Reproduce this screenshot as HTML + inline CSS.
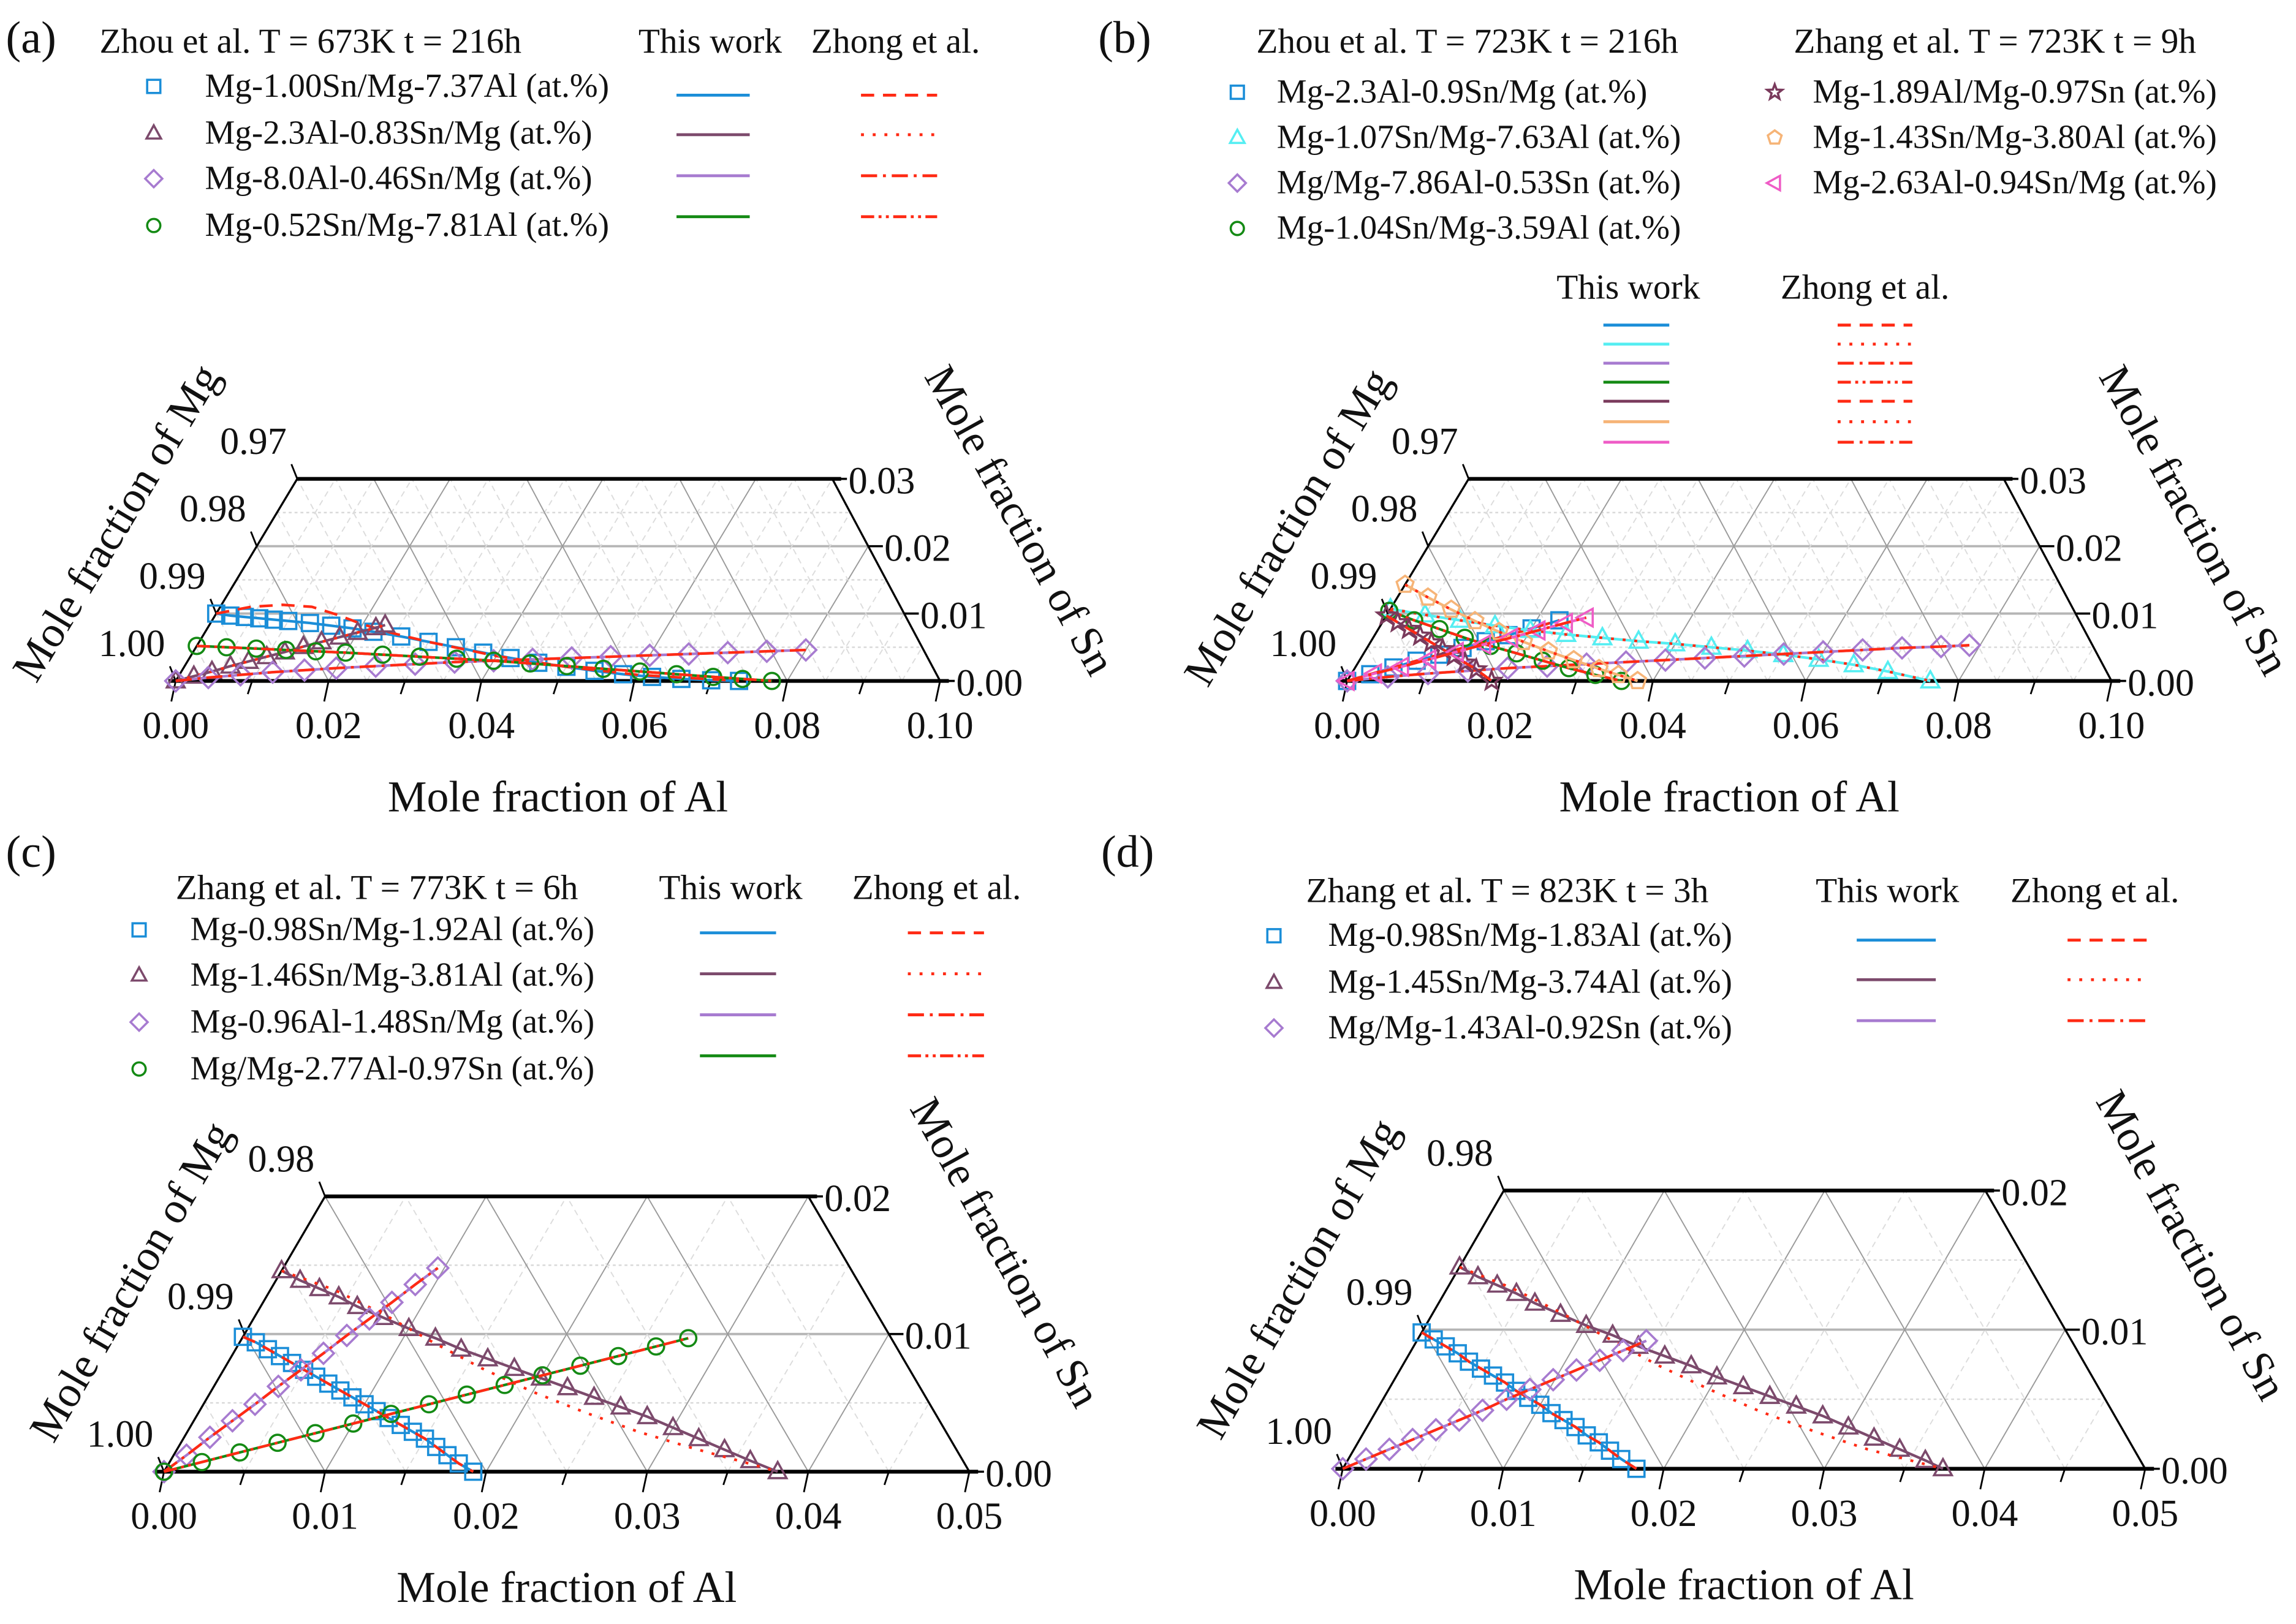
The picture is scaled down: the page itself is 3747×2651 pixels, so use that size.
<!DOCTYPE html>
<html><head><meta charset="utf-8"><style>
html,body{margin:0;padding:0;background:#fff}
svg{display:block}
text{font-family:"Liberation Serif",serif;fill:#111}
</style></head><body>
<svg id="fig" width="3747" height="2651" viewBox="0 0 1568 1109" preserveAspectRatio="none" xmlns="http://www.w3.org/2000/svg">
<rect width="1568" height="1109" fill="#fff"/>
</svg>
<script>
// ---- data (composition: mole fraction Al, Sn) ----
const alTicksAB = [0, 0.02, 0.04, 0.06, 0.08, 0.10];
const alTickLabelsAB = ["0.00","0.02","0.04","0.06","0.08","0.10"];
const snTicksAB = [0, 0.01, 0.02, 0.03];
const snTickLabelsAB = ["0.00","0.01","0.02","0.03"];
const mgTickLabelsAB = ["1.00","0.99","0.98","0.97"];
const alTicksCD = [0, 0.01, 0.02, 0.03, 0.04, 0.05];
const alTickLabelsCD = ["0.00","0.01","0.02","0.03","0.04","0.05"];
const snTicksCD = [0, 0.01, 0.02];
const snTickLabelsCD = ["0.00","0.01","0.02"];
const mgTickLabelsCD = ["1.00","0.99","0.98"];

// panel a
const aBlueAl = [0,0.002,0.004,0.006,0.008,0.010,0.013,0.016,0.019,0.022,0.026,0.030,0.034,0.038,0.042,0.046,0.050,0.054,0.058,0.062,0.066,0.070,0.0737];
const aBlueSn = [0.0100,0.0097,0.0095,0.0093,0.0091,0.0089,0.0086,0.0082,0.0078,0.0073,0.0066,0.0058,0.0050,0.0042,0.0034,0.0027,0.0021,0.0015,0.0010,0.0006,0.0003,0.0001,0];
const aBlueZAl = [0,0.004,0.008,0.012,0.016,0.020,0.025,0.030,0.040,0.050,0.060,0.0737];
const aBlueZSn = [0.0100,0.0110,0.0113,0.0110,0.0098,0.0084,0.0070,0.0058,0.0037,0.0021,0.0009,0];
const aPurAl = [0,0.002,0.004,0.006,0.008,0.010,0.012,0.014,0.016,0.018,0.020,0.022,0.023];
const aPurSn = [0,0.0007,0.0014,0.0022,0.0029,0.0036,0.0043,0.0051,0.0058,0.0065,0.0072,0.0079,0.0083];
const aLavAl = [0,0.004,0.008,0.012,0.016,0.020,0.025,0.030,0.035,0.040,0.045,0.050,0.055,0.060,0.065,0.070,0.075,0.080];
const aLavSn = [0,0.0005,0.0009,0.0013,0.0016,0.0019,0.0022,0.0025,0.0028,0.0030,0.0032,0.0034,0.0036,0.0038,0.0040,0.0042,0.0044,0.0046];
const aGrnAl = [0,0.004,0.008,0.012,0.016,0.020,0.025,0.030,0.035,0.040,0.045,0.050,0.055,0.060,0.065,0.070,0.074,0.078];
const aGrnSn = [0.0052,0.0050,0.0048,0.0046,0.0044,0.0042,0.0039,0.0036,0.0033,0.0030,0.0026,0.0022,0.0018,0.0014,0.0010,0.0006,0.0003,0];

// panel b
const bBlueAl = [0,0.0025,0.005,0.0075,0.010,0.0125,0.015,0.0175,0.020,0.023];
const bBlueSn = [0,0.0010,0.0020,0.0030,0.0039,0.0049,0.0059,0.0068,0.0078,0.0090];
const bCyanAl = [0,0.005,0.010,0.015,0.020,0.025,0.030,0.035,0.040,0.045,0.050,0.055,0.060,0.065,0.070,0.0763];
const bCyanSn = [0.0107,0.0098,0.0090,0.0082,0.0075,0.0069,0.0064,0.0059,0.0055,0.0050,0.0045,0.0039,0.0032,0.0024,0.0014,0];
const bLavAl = [0,0.005,0.010,0.015,0.020,0.025,0.030,0.035,0.040,0.045,0.050,0.055,0.060,0.065,0.070,0.075,0.0786];
const bLavSn = [0,0.0006,0.0011,0.0015,0.0019,0.0022,0.0025,0.0028,0.0031,0.0034,0.0037,0.0040,0.0043,0.0046,0.0049,0.0051,0.0053];
const bGrnAl = [0,0.004,0.008,0.012,0.016,0.020,0.024,0.028,0.032,0.0359];
const bGrnSn = [0.0104,0.0090,0.0077,0.0064,0.0052,0.0041,0.0030,0.0019,0.0009,0];
const bStarAl = [0,0.002,0.004,0.006,0.008,0.010,0.012,0.014,0.016,0.0189];
const bStarSn = [0.0097,0.0087,0.0077,0.0067,0.0057,0.0047,0.0037,0.0027,0.0017,0];
const bOrgAl = [0,0.004,0.008,0.012,0.016,0.020,0.024,0.028,0.032,0.035,0.038];
const bOrgSn = [0.0143,0.0124,0.0106,0.0089,0.0073,0.0058,0.0044,0.0031,0.0018,0.0009,0];
const bPinkAl = [0,0.003,0.006,0.009,0.012,0.015,0.018,0.021,0.024,0.0263];
const bPinkSn = [0,0.0011,0.0021,0.0032,0.0043,0.0054,0.0064,0.0075,0.0086,0.0094];

// panel c
const cBlueAl = [0,0.001,0.002,0.003,0.004,0.005,0.006,0.007,0.008,0.009,0.010,0.011,0.012,0.013,0.014,0.015,0.016,0.017,0.018,0.0192];
const cBlueSn = [0.0098,0.0094,0.0089,0.0084,0.0079,0.0074,0.0069,0.0064,0.0059,0.0054,0.0049,0.0044,0.0039,0.0034,0.0029,0.0024,0.0018,0.0012,0.0006,0];
const cPurAl = [0,0.0015,0.003,0.0045,0.006,0.008,0.010,0.012,0.014,0.016,0.018,0.020,0.022,0.024,0.026,0.028,0.030,0.032,0.034,0.036,0.0381];
const cPurSn = [0.0146,0.0139,0.0133,0.0127,0.0120,0.0112,0.0104,0.0097,0.0089,0.0082,0.0075,0.0068,0.0061,0.0054,0.0047,0.0040,0.0032,0.0024,0.0016,0.0008,0];
const cPurZAl = [0,0.004,0.008,0.012,0.016,0.020,0.024,0.028,0.032,0.036,0.0381];
const cPurZSn = [0.0146,0.0132,0.0114,0.0094,0.0075,0.0058,0.0043,0.0029,0.0017,0.0006,0];
const cLavAl = [0,0.0008,0.0016,0.0024,0.0032,0.0040,0.0048,0.0056,0.0064,0.0072,0.0080,0.0088,0.0096];
const cLavSn = [0,0.0012,0.0025,0.0037,0.0049,0.0062,0.0074,0.0086,0.0099,0.0111,0.0123,0.0136,0.0148];
const cGrnAl = [0,0.002,0.004,0.006,0.008,0.010,0.012,0.014,0.016,0.018,0.020,0.022,0.024,0.026,0.0277];
const cGrnSn = [0,0.0007,0.0014,0.0021,0.0028,0.0035,0.0042,0.0049,0.0056,0.0063,0.0070,0.0077,0.0084,0.0091,0.0097];

// panel d
const dBlueAl = [0,0.001,0.002,0.003,0.004,0.005,0.006,0.007,0.008,0.009,0.010,0.011,0.012,0.013,0.014,0.015,0.016,0.017,0.0183];
const dBlueSn = [0.0098,0.0093,0.0088,0.0083,0.0077,0.0072,0.0067,0.0062,0.0056,0.0051,0.0046,0.0040,0.0035,0.0030,0.0024,0.0019,0.0013,0.0007,0];
const dPurAl = [0,0.0015,0.003,0.0045,0.006,0.008,0.010,0.012,0.014,0.016,0.018,0.020,0.022,0.024,0.026,0.028,0.030,0.032,0.034,0.036,0.0374];
const dPurSn = [0.0145,0.0138,0.0132,0.0126,0.0119,0.0111,0.0103,0.0096,0.0088,0.0081,0.0074,0.0066,0.0059,0.0052,0.0045,0.0038,0.0030,0.0022,0.0014,0.0006,0];
const dPurZAl = [0,0.004,0.008,0.012,0.016,0.020,0.024,0.028,0.032,0.0374];
const dPurZSn = [0.0145,0.0130,0.0112,0.0093,0.0074,0.0057,0.0041,0.0027,0.0014,0];
const dLavAl = [0,0.0011,0.0022,0.0033,0.0044,0.0055,0.0066,0.0077,0.0088,0.0099,0.0110,0.0121,0.0132,0.0143];
const dLavSn = [0,0.0007,0.0014,0.0021,0.0028,0.0035,0.0042,0.0050,0.0057,0.0064,0.0071,0.0078,0.0085,0.0092];

// ---- rendering ----
const NS = "http://www.w3.org/2000/svg";
const svg = document.getElementById('fig');
const C = {blue:"#1b8ed8", pur:"#7c4a6c", lav:"#a77bd0", grn:"#148a14", cyan:"#55eef2", org:"#f6b477", pink:"#ef5cc6", star:"#7a3a5c", red:"#ff2a14"};
const DASH = {dash:"9,6", dot:"2,6", dashdot:"11,4,2,4", dashdotdot:"9,3,2,3,2,3"};
function el(tag, attrs, parent){const e=document.createElementNS(NS,tag);for(const k in attrs)e.setAttribute(k,attrs[k]);(parent||svg).appendChild(e);return e;}
function txt(s,x,y,size,parent,anchor,rot){const t=el('text',{x:x,y:y,'font-size':size,'text-anchor':anchor||'start'},parent);if(rot!==undefined)t.setAttribute('transform',`rotate(${rot} ${x} ${y})`);t.textContent=s;return t;}

function marker(shape,x,y,color,g,sz){
  const s=sz||5.5;let e;
  if(shape==='square')e=el('rect',{x:x-s,y:y-s,width:2*s,height:2*s},g);
  else if(shape==='circle')e=el('circle',{cx:x,cy:y,r:s},g);
  else if(shape==='diamond')e=el('polygon',{points:`${x},${y-s*1.3} ${x+s*1.3},${y} ${x},${y+s*1.3} ${x-s*1.3},${y}`},g);
  else if(shape==='tri')e=el('polygon',{points:`${x},${y-s*1.2} ${x+s*1.1},${y+s*0.8} ${x-s*1.1},${y+s*0.8}`},g);
  else if(shape==='ltri')e=el('polygon',{points:`${x-s*1.2},${y} ${x+s*0.8},${y-s*1.1} ${x+s*0.8},${y+s*1.1}`},g);
  else if(shape==='pent'){let p=[];for(let i=0;i<5;i++){const a=-Math.PI/2+i*2*Math.PI/5;p.push((x+s*1.1*Math.cos(a))+','+(y+s*1.1*Math.sin(a)));}e=el('polygon',{points:p.join(' ')},g);}
  else {let p=[];for(let i=0;i<10;i++){const a=-Math.PI/2+i*Math.PI/5;const r=i%2?s*0.5:s*1.2;p.push((x+r*Math.cos(a))+','+(y+r*Math.sin(a)));}e=el('polygon',{points:p.join(' ')},g);}
  e.setAttribute('fill','none');e.setAttribute('stroke',color);e.setAttribute('stroke-width','1.5');
  
  
}

function panel(P){
  const g=el('g',{});
  
  
  const map=(al,sn)=>[P.x0+al*P.sx+sn*P.kx, P.y0-sn*P.sy];
  const snMax=P.snTicks[P.snTicks.length-1], alMax=P.alTicks[P.alTicks.length-1];
  const A=map(0,0),B=map(alMax,0),Ct=map(alMax-snMax,snMax),D=map(0,snMax);
  const cid='clip'+P.id;
  const cp=el('clipPath',{id:cid},g);el('polygon',{points:`${A} ${B} ${Ct} ${D}`},cp);
  const grid=el('g',{'clip-path':`url(#${cid})`},g);
  
  
  const step=P.minor;
  for(let s=step;s<snMax-1e-9;s+=step){const p1=map(0,s),p2=map(alMax,s);const major=Math.abs(s/0.01-Math.round(s/0.01))<1e-6;
    el('line',{x1:p1[0],y1:p1[1],x2:p2[0]+200,y2:p2[1],stroke:major?'#b5b5b5':'#d8d8d8','stroke-width':major?1.6:1,'stroke-dasharray':major?'':'2,2'},grid);}
  for(let a=step;a<alMax+snMax;a+=step){const major=Math.abs(a/P.majorAl-Math.round(a/P.majorAl))<1e-6;
    const p1=map(a,0),p2=map(a,snMax);el('line',{x1:p1[0],y1:p1[1],x2:p2[0],y2:p2[1],stroke:major?'#9a9a9a':'#dcdcdc','stroke-width':0.8,'stroke-dasharray':major?'':'4,3'},grid);
    const q1=map(a,0),q2=map(a-snMax,snMax);el('line',{x1:q1[0],y1:q1[1],x2:q2[0],y2:q2[1],stroke:major?'#9a9a9a':'#dcdcdc','stroke-width':0.8,'stroke-dasharray':major?'':'4,3'},grid);}
  const fr=el('g',{},g);
  
  
  el('line',{x1:A[0]-5,y1:A[1],x2:B[0]+6,y2:B[1],stroke:'#000','stroke-width':2.6},fr);
  el('line',{x1:D[0],y1:D[1],x2:Ct[0]+6,y2:Ct[1],stroke:'#000','stroke-width':2.6},fr);
  el('line',{x1:A[0],y1:A[1],x2:D[0],y2:D[1],stroke:'#000','stroke-width':1.4},fr);
  el('line',{x1:B[0],y1:B[1],x2:Ct[0],y2:Ct[1],stroke:'#000','stroke-width':1.4},fr);
  for(let a=0;a<=alMax+1e-9;a+=P.majorAl/2){const p=map(a,0);el('line',{x1:p[0],y1:p[1],x2:p[0]-3,y2:p[1]+(Math.abs(a/P.majorAl-Math.round(a/P.majorAl))<1e-6?14:9),stroke:'#000','stroke-width':1.2},fr);}
  P.alTicks.forEach((a,i)=>{const p=map(a,0);txt(P.alLabels[i],p[0],p[1]+39,26,g,'middle');});
  P.snTicks.forEach((s,i)=>{const p=map(alMax-s,s);el('line',{x1:p[0],y1:p[1],x2:p[0]+10,y2:p[1],stroke:'#000','stroke-width':1.5},fr);txt(P.snLabels[i],p[0]+11,p[1]+10,26,g,'start');});
  P.snTicks.forEach((s,i)=>{const p=map(0,s);el('line',{x1:p[0],y1:p[1],x2:p[0]-4,y2:p[1]-10,stroke:'#000','stroke-width':1.2},fr);txt(P.mgLabels[i],p[0]-30,p[1]-17,26,g,'middle');});
  txt('Mole fraction of Al',(A[0]+B[0])/2,A[1]+89,30,g,'middle');
  txt('Mole fraction of Mg',P.mgT[0],P.mgT[1],30,g,'middle',P.mgT[2]);
  txt('Mole fraction of Sn',P.snT[0],P.snT[1],30,g,'middle',P.snT[2]);
  P.series.forEach(S=>{
    const sg=el('g',{},g);
    
    
    const pts=S.al.map((a,i)=>map(a,S.sn[i]));
    S.al.forEach((a,i)=>{const p=map(a,S.sn[i]);marker(S.shape,p[0],p[1],S.color,sg);});
    el('polyline',{points:pts.map(p=>p.join(',')).join(' '),fill:'none',stroke:S.color,'stroke-width':1.8},sg);
    const zal=S.zal||S.al,zsn=S.zsn||S.sn;
    const zp=zal.map((a,i)=>map(a,zsn[i]));
    el('polyline',{points:zp.map(p=>p.join(',')).join(' '),fill:'none',stroke:C.red,'stroke-width':1.8,'stroke-dasharray':DASH[S.dash]},sg);
  });
}

function legend(L){
  const g=el('g',{});
  
  
  txt(L.label,L.labelXY[0],L.labelXY[1],31,g,'start');
  L.headers.forEach(h=>txt(h[0],h[1],h[2],24,g,'start'));
  L.entries.forEach(e=>{
    marker(e.shape,e.mx,e.y-7,e.color,g,4.5);
    txt(e.text,e.tx,e.y,23,g,'start');
  });
  L.lines.forEach(l=>{
    el('line',{x1:l.x1,y1:l.y,x2:l.x2,y2:l.y,stroke:l.color,'stroke-width':2},g);
    el('line',{x1:l.rx1,y1:l.y,x2:l.rx2,y2:l.y,stroke:C.red,'stroke-width':2,'stroke-dasharray':DASH[l.dash]},g);
  });
}

panel({id:'a',name:'panel-a-chart',x0:120,y0:465,sx:5220,sy:4600,kx:2767,minor:0.005,majorAl:0.02,
  alTicks:alTicksAB,alLabels:alTickLabelsAB,snTicks:snTicksAB,snLabels:snTickLabelsAB,mgLabels:mgTickLabelsAB,
  mgT:[88,362,-59],snT:[688,360,61],
  series:[
   {name:'series-mg-1.00sn-mg-7.37al',al:aBlueAl,sn:aBlueSn,zal:aBlueZAl,zsn:aBlueZSn,color:C.blue,shape:'square',dash:'dash'},
   {name:'series-mg-2.3al-0.83sn-mg',al:aPurAl,sn:aPurSn,color:C.pur,shape:'tri',dash:'dot'},
   {name:'series-mg-8.0al-0.46sn-mg',al:aLavAl,sn:aLavSn,color:C.lav,shape:'diamond',dash:'dashdot'},
   {name:'series-mg-0.52sn-mg-7.81al',al:aGrnAl,sn:aGrnSn,color:C.grn,shape:'circle',dash:'dashdotdot'}]});
legend({name:'legend-a',label:'(a)',labelXY:[4,36],
  headers:[['Zhou et al.  T = 673K  t = 216h',68,36],['This work',436,36],['Zhong et al.',554,36]],
  entries:[{shape:'square',color:C.blue,mx:105,tx:140,y:66,text:'Mg-1.00Sn/Mg-7.37Al (at.%)'},
   {shape:'tri',color:C.pur,mx:105,tx:140,y:98,text:'Mg-2.3Al-0.83Sn/Mg (at.%)'},
   {shape:'diamond',color:C.lav,mx:105,tx:140,y:129,text:'Mg-8.0Al-0.46Sn/Mg (at.%)'},
   {shape:'circle',color:C.grn,mx:105,tx:140,y:161,text:'Mg-0.52Sn/Mg-7.81Al (at.%)'}],
  lines:[{y:65,x1:462,x2:512,rx1:588,rx2:640,color:C.blue,dash:'dash'},{y:92,x1:462,x2:512,rx1:588,rx2:640,color:C.pur,dash:'dot'},
   {y:120,x1:462,x2:512,rx1:588,rx2:640,color:C.lav,dash:'dashdot'},{y:148,x1:462,x2:512,rx1:588,rx2:640,color:C.grn,dash:'dashdotdot'}]});

panel({id:'b',name:'panel-b-chart',x0:920,y0:465,sx:5220,sy:4600,kx:2767,minor:0.005,majorAl:0.02,
  alTicks:alTicksAB,alLabels:alTickLabelsAB,snTicks:snTicksAB,snLabels:snTickLabelsAB,mgLabels:mgTickLabelsAB,
  mgT:[888,365,-59],snT:[1490,360,61],
  series:[
   {name:'series-mg-2.3al-0.9sn-mg',al:bBlueAl,sn:bBlueSn,color:C.blue,shape:'square',dash:'dash'},
   {name:'series-mg-1.07sn-mg-7.63al',al:bCyanAl,sn:bCyanSn,color:C.cyan,shape:'tri',dash:'dot'},
   {name:'series-mg-mg-7.86al-0.53sn',al:bLavAl,sn:bLavSn,color:C.lav,shape:'diamond',dash:'dashdot'},
   {name:'series-mg-1.04sn-mg-3.59al',al:bGrnAl,sn:bGrnSn,color:C.grn,shape:'circle',dash:'dashdotdot'},
   {name:'series-mg-1.89al-mg-0.97sn',al:bStarAl,sn:bStarSn,color:C.star,shape:'star',dash:'dash'},
   {name:'series-mg-1.43sn-mg-3.80al',al:bOrgAl,sn:bOrgSn,color:C.org,shape:'pent',dash:'dot'},
   {name:'series-mg-2.63al-0.94sn-mg',al:bPinkAl,sn:bPinkSn,color:C.pink,shape:'ltri',dash:'dashdot'}]});
legend({name:'legend-b',label:'(b)',labelXY:[750,36],
  headers:[['Zhou et al.  T = 723K  t = 216h',858,36],['Zhang et al.  T = 723K  t = 9h',1225,36],['This work',1063,204],['Zhong et al.',1216,204]],
  entries:[{shape:'square',color:C.blue,mx:845,tx:872,y:70,text:'Mg-2.3Al-0.9Sn/Mg (at.%)'},
   {shape:'tri',color:C.cyan,mx:845,tx:872,y:101,text:'Mg-1.07Sn/Mg-7.63Al (at.%)'},
   {shape:'diamond',color:C.lav,mx:845,tx:872,y:132,text:'Mg/Mg-7.86Al-0.53Sn (at.%)'},
   {shape:'circle',color:C.grn,mx:845,tx:872,y:163,text:'Mg-1.04Sn/Mg-3.59Al (at.%)'},
   {shape:'star',color:C.star,mx:1212,tx:1238,y:70,text:'Mg-1.89Al/Mg-0.97Sn (at.%)'},
   {shape:'pent',color:C.org,mx:1212,tx:1238,y:101,text:'Mg-1.43Sn/Mg-3.80Al (at.%)'},
   {shape:'ltri',color:C.pink,mx:1212,tx:1238,y:132,text:'Mg-2.63Al-0.94Sn/Mg (at.%)'}],
  lines:[{y:222,x1:1095,x2:1140,rx1:1255,rx2:1306,color:C.blue,dash:'dash'},{y:235,x1:1095,x2:1140,rx1:1255,rx2:1306,color:C.cyan,dash:'dot'},
   {y:248,x1:1095,x2:1140,rx1:1255,rx2:1306,color:C.lav,dash:'dashdot'},{y:261,x1:1095,x2:1140,rx1:1255,rx2:1306,color:C.grn,dash:'dashdotdot'},
   {y:274,x1:1095,x2:1140,rx1:1255,rx2:1306,color:C.star,dash:'dash'},{y:288,x1:1095,x2:1140,rx1:1255,rx2:1306,color:C.org,dash:'dot'},
   {y:302,x1:1095,x2:1140,rx1:1255,rx2:1306,color:C.pink,dash:'dashdot'}]});

panel({id:'c',name:'panel-c-chart',x0:112,y0:1005,sx:11000,sy:9400,kx:5500,minor:0.005,majorAl:0.01,
  alTicks:alTicksCD,alLabels:alTickLabelsCD,snTicks:snTicksCD,snLabels:snTickLabelsCD,mgLabels:mgTickLabelsCD,
  mgT:[98,880,-60],snT:[678,860,61],
  series:[
   {name:'series-mg-0.98sn-mg-1.92al',al:cBlueAl,sn:cBlueSn,color:C.blue,shape:'square',dash:'dash'},
   {name:'series-mg-1.46sn-mg-3.81al',al:cPurAl,sn:cPurSn,zal:cPurZAl,zsn:cPurZSn,color:C.pur,shape:'tri',dash:'dot'},
   {name:'series-mg-0.96al-1.48sn-mg',al:cLavAl,sn:cLavSn,color:C.lav,shape:'diamond',dash:'dashdot'},
   {name:'series-mg-mg-2.77al-0.97sn',al:cGrnAl,sn:cGrnSn,color:C.grn,shape:'circle',dash:'dashdotdot'}]});
legend({name:'legend-c',label:'(c)',labelXY:[4,592],
  headers:[['Zhang et al.  T = 773K   t = 6h',120,614],['This work',450,614],['Zhong et al.',582,614]],
  entries:[{shape:'square',color:C.blue,mx:95,tx:130,y:642,text:'Mg-0.98Sn/Mg-1.92Al (at.%)'},
   {shape:'tri',color:C.pur,mx:95,tx:130,y:673,text:'Mg-1.46Sn/Mg-3.81Al (at.%)'},
   {shape:'diamond',color:C.lav,mx:95,tx:130,y:705,text:'Mg-0.96Al-1.48Sn/Mg (at.%)'},
   {shape:'circle',color:C.grn,mx:95,tx:130,y:737,text:'Mg/Mg-2.77Al-0.97Sn (at.%)'}],
  lines:[{y:637,x1:478,x2:530,rx1:620,rx2:672,color:C.blue,dash:'dash'},{y:665,x1:478,x2:530,rx1:620,rx2:672,color:C.pur,dash:'dot'},
   {y:693,x1:478,x2:530,rx1:620,rx2:672,color:C.lav,dash:'dashdot'},{y:721,x1:478,x2:530,rx1:620,rx2:672,color:C.grn,dash:'dashdotdot'}]});

panel({id:'d',name:'panel-d-chart',x0:917,y0:1003,sx:10960,sy:9500,kx:5500,minor:0.005,majorAl:0.01,
  alTicks:alTicksCD,alLabels:alTickLabelsCD,snTicks:snTicksCD,snLabels:snTickLabelsCD,mgLabels:mgTickLabelsCD,
  mgT:[895,878,-60],snT:[1488,855,61],
  series:[
   {name:'series-mg-0.98sn-mg-1.83al',al:dBlueAl,sn:dBlueSn,color:C.blue,shape:'square',dash:'dash'},
   {name:'series-mg-1.45sn-mg-3.74al',al:dPurAl,sn:dPurSn,zal:dPurZAl,zsn:dPurZSn,color:C.pur,shape:'tri',dash:'dot'},
   {name:'series-mg-mg-1.43al-0.92sn',al:dLavAl,sn:dLavSn,color:C.lav,shape:'diamond',dash:'dashdot'}]});
legend({name:'legend-d',label:'(d)',labelXY:[752,592],
  headers:[['Zhang et al.   T = 823K   t = 3h',892,616],['This work',1240,616],['Zhong et al.',1373,616]],
  entries:[{shape:'square',color:C.blue,mx:870,tx:907,y:646,text:'Mg-0.98Sn/Mg-1.83Al (at.%)'},
   {shape:'tri',color:C.pur,mx:870,tx:907,y:678,text:'Mg-1.45Sn/Mg-3.74Al (at.%)'},
   {shape:'diamond',color:C.lav,mx:870,tx:907,y:709,text:'Mg/Mg-1.43Al-0.92Sn (at.%)'}],
  lines:[{y:642,x1:1268,x2:1322,rx1:1412,rx2:1466,color:C.blue,dash:'dash'},{y:669,x1:1268,x2:1322,rx1:1412,rx2:1466,color:C.pur,dash:'dot'},
   {y:697,x1:1268,x2:1322,rx1:1412,rx2:1466,color:C.lav,dash:'dashdot'}]});
</script>
</body></html>
